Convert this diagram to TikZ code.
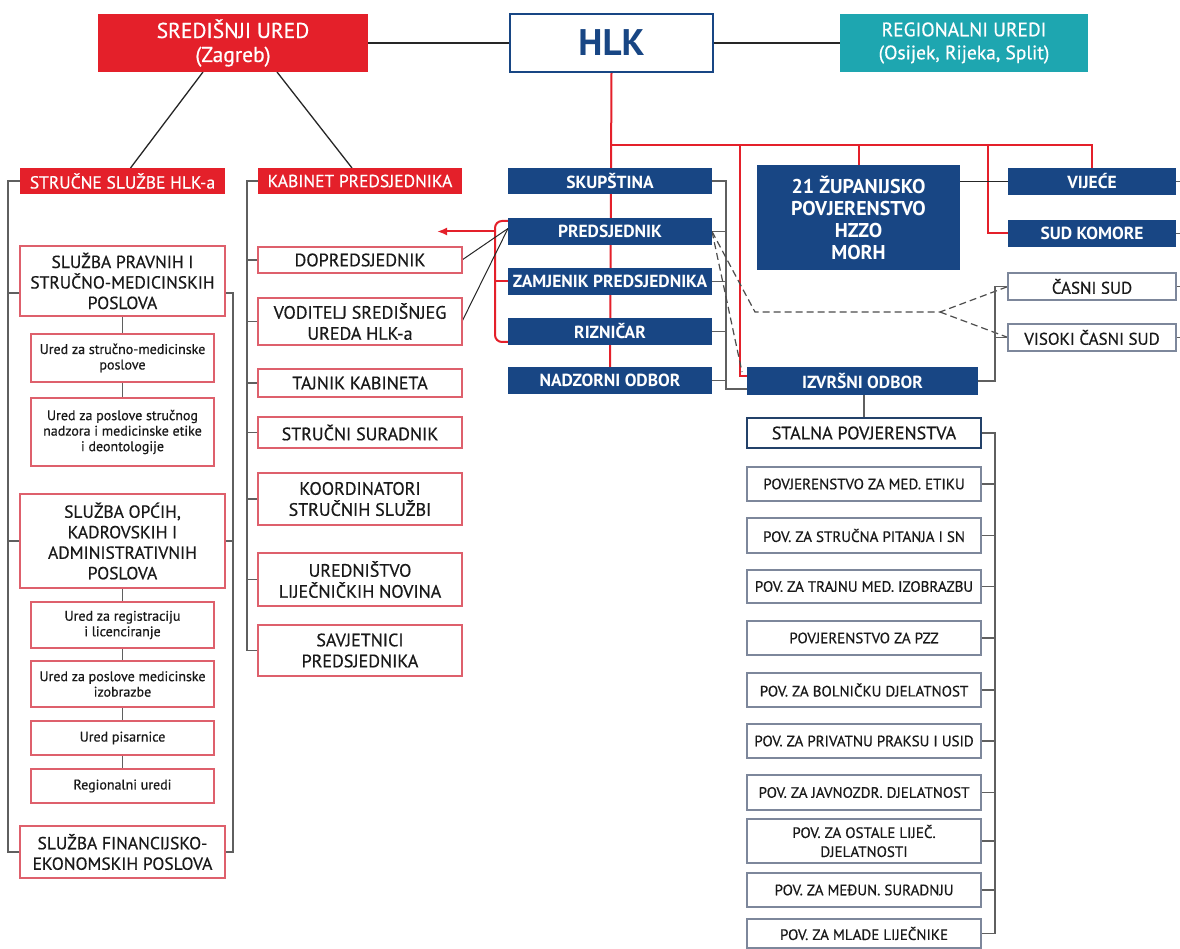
\documentclass[tikz,border=0pt]{standalone}
\usepackage{fontspec}
\setmainfont{PT Sans}
\newfontfamily\medfont[FakeBold=0.5]{PT Sans}
\usetikzlibrary{calc,arrows.meta,backgrounds}
\definecolor{hlkred}{RGB}{228,32,42}
\definecolor{hlkblue}{RGB}{24,70,132}
\definecolor{hlkteal}{RGB}{30,166,176}
\definecolor{boxred}{RGB}{222,96,108}
\definecolor{boxgray}{RGB}{125,135,155}
\definecolor{stalblue}{RGB}{35,65,105}
\definecolor{lgray}{RGB}{95,95,95}
\definecolor{txt}{RGB}{25,25,25}
\tikzset{
 base/.style={rectangle, inner sep=1pt, outer sep=0pt, align=center},
 redfill/.style={base, fill=hlkred, text=white, font=\medfont\fontsize{17.5}{20}\selectfont},
 topred/.style={base, fill=hlkred, text=white, font=\medfont\fontsize{21.5}{24}\selectfont},
 topteal/.style={base, fill=hlkteal, text=white, font=\medfont\fontsize{19.5}{23}\selectfont},
 hlkbox/.style={base, draw=hlkblue, line width=1.6pt, fill=white, text=hlkblue, font=\bfseries\fontsize{37}{40}\selectfont},
 bluefill/.style={base, fill=hlkblue, text=white, font=\bfseries\fontsize{17.5}{20}\selectfont},
 zupfill/.style={base, fill=hlkblue, text=white, font=\bfseries\fontsize{20}{22}\selectfont},
 redbox/.style={base, draw=boxred, line width=1.3pt, fill=white, text=txt, font=\medfont\fontsize{17.5}{20.5}\selectfont},
 midbox/.style={redbox, font=\medfont\fontsize{18}{21}\selectfont},
 smallbox/.style={base, draw=boxred, line width=1.3pt, fill=white, text=txt, font=\medfont\fontsize{14}{15.5}\selectfont},
 graybox/.style={base, draw=boxgray, line width=1.3pt, fill=white, text=txt, font=\medfont\fontsize{15}{19}\selectfont},
 sudbox/.style={base, draw=boxgray, line width=1.3pt, fill=white, text=txt, font=\medfont\fontsize{17}{20}\selectfont},
 stalbox/.style={base, draw=stalblue, line width=2pt, fill=white, text=txt, font=\medfont\fontsize{18}{20}\selectfont},
 conn/.style={draw=lgray, line width=1.2pt},
 blk/.style={draw=black!85, line width=1.3pt},
 redl/.style={draw=hlkred, line width=2pt},
 dashl/.style={draw=black!70, line width=1.2pt, dash pattern=on 7pt off 4pt},
}
\newcommand{\bx}[7]{\node[#2, minimum width={(#5-#3)*1pt}, minimum height={(#6-#4)*1pt}] (#1) at ({(#3+#5)/2},{(#4+#6)/2}) {#7};}
\begin{document}
\begin{tikzpicture}[x=1pt,y=-1pt]
\useasboundingbox (0,0) rectangle (1180,949);
\begin{pgfonlayer}{background}
\fill[white] (0,0) rectangle (1180,949);
\end{pgfonlayer}
% top row
\bx{sred}{topred}{98}{14}{368}{72}{SREDIŠNJI URED\\(Zagreb)}
\bx{hlk}{hlkbox}{510}{14}{713}{72}{HLK}
\bx{reg}{topteal}{840}{14}{1088}{72}{REGIONALNI UREDI\\(Osijek, Rijeka, Split)}
% left column
\bx{struc}{redfill}{20}{168}{225}{194}{STRUČNE SLUŽBE HLK-a}
\bx{spr}{redbox}{20}{246}{225}{316}{SLUŽBA PRAVNIH I\\STRUČNO-MEDICINSKIH\\POSLOVA}
\bx{u1}{smallbox}{31}{334}{214}{382}{Ured za stručno-medicinske\\poslove}
\bx{u2}{smallbox}{31}{398}{214}{466}{Ured za poslove stručnog\\nadzora i medicinske etike\\i deontologije}
\bx{sop}{redbox}{20}{494}{225}{588}{SLUŽBA OPĆIH,\\KADROVSKIH I\\ADMINISTRATIVNIH\\POSLOVA}
\bx{u3}{smallbox}{31}{602}{214}{648}{Ured za registraciju\\i licenciranje}
\bx{u4}{smallbox}{31}{661}{214}{707}{Ured za poslove medicinske\\izobrazbe}
\bx{u5}{smallbox}{31}{721}{214}{755}{Ured pisarnice}
\bx{u6}{smallbox}{31}{769}{214}{803}{Regionalni uredi}
\bx{sfin}{redbox}{20}{826}{225}{878}{SLUŽBA FINANCIJSKO-\\EKONOMSKIH POSLOVA}
% middle column
\bx{kab}{redfill}{258}{168}{462}{194}{KABINET PREDSJEDNIKA}
\bx{dop}{midbox}{258}{247}{462}{273}{DOPREDSJEDNIK}
\bx{vod}{midbox}{258}{298}{462}{345}{VODITELJ SREDIŠNJEG\\UREDA HLK-a}
\bx{taj}{midbox}{258}{369}{462}{397}{TAJNIK KABINETA}
\bx{ssur}{midbox}{258}{417}{462}{448}{STRUČNI SURADNIK}
\bx{koo}{midbox}{258}{473}{462}{525}{KOORDINATORI\\STRUČNIH SLUŽBI}
\bx{urn}{midbox}{258}{553}{462}{606}{UREDNIŠTVO\\LIJEČNIČKIH NOVINA}
\bx{sav}{midbox}{258}{625}{462}{676}{SAVJETNICI\\PREDSJEDNIKA}
% blue column
\bx{sku}{bluefill}{508}{168}{712}{194}{SKUPŠTINA}
\bx{pred}{bluefill}{508}{218}{712}{245}{PREDSJEDNIK}
\bx{zam}{bluefill}{508}{268}{712}{295}{ZAMJENIK PREDSJEDNIKA}
\bx{riz}{bluefill}{508}{318}{712}{345}{RIZNIČAR}
\bx{nadz}{bluefill}{508}{367}{712}{394}{NADZORNI ODBOR}
\bx{zup}{zupfill}{757}{165}{960}{270}{21 ŽUPANIJSKO\\POVJERENSTVO\\HZZO\\MORH}
\bx{vij}{bluefill}{1008}{168}{1176}{195}{VIJEĆE}
\bx{sud}{bluefill}{1008}{220}{1176}{247}{SUD KOMORE}
\bx{cas}{sudbox}{1008}{273}{1176}{300}{ČASNI SUD}
\bx{vis}{sudbox}{1008}{324}{1176}{351}{VISOKI ČASNI SUD}
\bx{izv}{bluefill}{747}{367}{978}{395}{IZVRŠNI ODBOR}
% right column
\bx{stal}{stalbox}{747}{418}{981}{448}{STALNA POVJERENSTVA}
\bx{p1}{graybox}{747}{467}{981}{501}{POVJERENSTVO ZA MED. ETIKU}
\bx{p2}{graybox}{747}{518}{981}{553}{POV. ZA STRUČNA PITANJA I SN}
\bx{p3}{graybox}{747}{570}{981}{603}{POV. ZA TRAJNU MED. IZOBRAZBU}
\bx{p4}{graybox}{747}{621}{981}{655}{POVJERENSTVO ZA PZZ}
\bx{p5}{graybox}{747}{673}{981}{707}{POV. ZA BOLNIČKU DJELATNOST}
\bx{p6}{graybox}{747}{724}{981}{758}{POV. ZA PRIVATNU PRAKSU I USID}
\bx{p7}{graybox}{747}{775}{981}{810}{POV. ZA JAVNOZDR. DJELATNOST}
\bx{p8}{graybox}{747}{819}{981}{863}{POV. ZA OSTALE LIJEČ.\\DJELATNOSTI}
\bx{p9}{graybox}{747}{873}{981}{907}{POV. ZA MEĐUN. SURADNJU}
\bx{p10}{graybox}{747}{919}{981}{948}{POV. ZA MLADE LIJEČNIKE}
% coordinates
\coordinate (lbx) at (8,0);
\coordinate (rbx) at (233,0);
\coordinate (mbx) at (247,0);
\coordinate (bcx) at (726,0);
\coordinate (scx) at (995,0);
\coordinate (rrx) at (995,0);
\coordinate (rt) at (611.5,145);
\coordinate (r2) at (740,145);
\coordinate (r2b) at (740,376);
\coordinate (r4) at (988,145);
\coordinate (arrEnd) at (437,231.5);
\coordinate (dk) at (755,312);
\coordinate (dsplit) at (940,312);
\coordinate (izvb) at ([yshift=-8pt]izv.west);
\coordinate (sprL) at ([yshift=-12pt]spr.west);
\coordinate (sprR) at ([yshift=-12pt]spr.east);
\begin{pgfonlayer}{background}
% top connectors
\draw[blk] (sred) -- (hlk);
\draw[blk] (hlk) -- (reg);
\draw[blk] ([xshift=-30pt]sred.south) -- ([xshift=8pt]struc.north);
\draw[blk] ([xshift=44pt]sred.south) -- ([xshift=-8pt]kab.north);
% red tree
\draw[redl] (hlk.south) -- (nadz.north);
\draw[redl] (rt) -- (rt -| vij.north) -- (vij.north);
\draw[redl] (r2) -- (r2b) -- (r2b -| izv.west);
\draw[redl] (rt -| zup.north) -- (zup.north);
\draw[redl] (r4) |- (sud.west);
% red bracket and arrow
\draw[redl, rounded corners=7pt] ([yshift=-3pt]pred.north west) -- ++(-13,0) |- ([yshift=3pt]riz.south west);
\draw[redl] (zam.west) -- ++(-13,0);
\draw[redl, -{Latex[length=10pt,width=8pt]}] ([xshift=-13pt]pred.west) -- (arrEnd);
\draw[blk, line width=1pt] ([yshift=3pt]pred.west) -- (dop.east);
\draw[blk, line width=1pt] ([yshift=3pt]pred.west) -- (vod.east);
% bracket right of blue column
\draw[conn] (sku.east) -- (sku.east -| bcx) -- (bcx |- izvb) -- (izvb);
\foreach \n in {pred,zam,riz,nadz} \draw[conn] (\n.east) -- (\n.east -| bcx);
% dashed
\draw[dashl] (pred.east) -- ([xshift=-5pt,yshift=-5pt]izv.north west);
\draw[dashl] (pred.east) -- (dk) -- (dsplit) -- (cas.west);
\draw[dashl] (dsplit) -- (vis.west);
% courts
\draw[conn] (izv.east) -- (izv.east -| scx) -- (scx |- cas.west) -- (cas.west);
\draw[conn] (vis.west -| scx) -- (vis.west);
\draw[blk] (zup.east |- vij.west) -- (vij.west);
\foreach \n in {vij,sud,cas,vis} \draw[conn] (\n.east) -- ++(6,0);
% left column
\draw[conn] (struc.west) -- (struc.west -| lbx) -- (sfin.west -| lbx) -- (sfin.west);
\draw[conn] (sprL -| lbx) -- (sprL);
\draw[conn] (sop.west -| lbx) -- (sop.west);
\draw[conn] (sprR) -- (sprR -| rbx) -- (sfin.east -| rbx) -- (sfin.east);
\draw[conn] (sop.east -| rbx) -- (sop.east);
\draw[conn] (spr.south) -- (u1.north);
\draw[conn] (u1.south) -- (u2.north);
\draw[conn] (sop.south) -- (u3.north);
\draw[conn] (u3.south) -- (u4.north);
\draw[conn] (u4.south) -- (u5.north);
\draw[conn] (u5.south) -- (u6.north);
% middle column
\draw[conn] (kab.west) -- (kab.west -| mbx) -- (sav.west -| mbx) -- (sav.west);
\foreach \n in {dop,vod,taj,ssur,koo,urn} \draw[conn] (\n.west -| mbx) -- (\n.west);
% right column
\draw[conn] (izv.south -| stal.north) -- (stal.north);
\draw[conn] (stal.east) -- (stal.east -| rrx) -- (p10.east -| rrx) -- (p10.east);
\foreach \n in {p1,p2,p3,p4,p5,p6,p7,p8,p9} \draw[conn] (\n.east) -- (\n.east -| rrx);
\end{pgfonlayer}
\end{tikzpicture}
\end{document}
